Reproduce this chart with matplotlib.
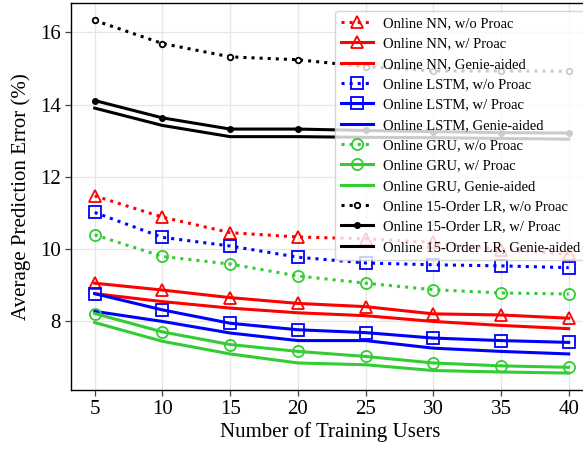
import matplotlib
matplotlib.use("Agg")
import matplotlib.pyplot as plt

plt.rcParams['font.family'] = ['Liberation Serif', 'DejaVu Serif']
plt.rcParams['mathtext.fontset'] = 'stix'

users = [5, 10, 15, 20, 25, 30, 35, 40]

nn_wo = [11.47, 10.88, 10.45, 10.33, 10.28, 10.18, 9.98, 9.86]
nn_w = [9.05, 8.86, 8.65, 8.49, 8.40, 8.20, 8.17, 8.08]
nn_genie = [8.76, 8.54, 8.36, 8.23, 8.15, 7.99, 7.88, 7.79]

lstm_wo = [11.01, 10.32, 10.08, 9.77, 9.61, 9.56, 9.53, 9.48]
lstm_w = [8.76, 8.31, 7.94, 7.76, 7.68, 7.53, 7.46, 7.41]
lstm_genie = [8.27, 7.99, 7.67, 7.46, 7.46, 7.25, 7.16, 7.09]

gru_wo = [10.39, 9.79, 9.58, 9.25, 9.05, 8.87, 8.78, 8.75]
gru_w = [8.21, 7.70, 7.35, 7.16, 7.02, 6.84, 6.76, 6.72]
gru_genie = [7.96, 7.44, 7.09, 6.84, 6.79, 6.63, 6.59, 6.56]

lr_wo = [16.33, 15.69, 15.32, 15.24, 15.05, 14.93, 14.93, 14.92]
lr_w = [14.11, 13.63, 13.32, 13.32, 13.28, 13.25, 13.22, 13.21]
lr_genie = [13.90, 13.42, 13.11, 13.11, 13.09, 13.08, 13.06, 13.04]

red = '#ff0000'
blue = '#0000ff'
green = '#33cc33'
lw = 2.2

fig = plt.figure(figsize=(5.83, 4.53), dpi=100)
ax = fig.add_axes([0.1218, 0.139, 0.8885, 0.855])

ax.plot(users, nn_wo, ':', color=red, lw=lw, marker='^', ms=9, mfc='none', mew=1.3, label='Online NN, w/o Proac')
ax.plot(users, nn_w, '-', color=red, lw=lw, marker='^', ms=9, mfc='none', mew=1.3, label='Online NN, w/ Proac')
ax.plot(users, nn_genie, '-', color=red, lw=lw, label='Online NN, Genie-aided')

ax.plot(users, lstm_wo, ':', color=blue, lw=lw, marker='s', ms=8, mfc='none', mew=1.3, label='Online LSTM, w/o Proac')
ax.plot(users, lstm_w, '-', color=blue, lw=lw, marker='s', ms=8, mfc='none', mew=1.3, label='Online LSTM, w/ Proac')
ax.plot(users, lstm_genie, '-', color=blue, lw=lw, label='Online LSTM, Genie-aided')

ax.plot(users, gru_wo, ':', color=green, lw=lw, marker='o', ms=8, mfc='none', mew=1.3, label='Online GRU, w/o Proac')
ax.plot(users, gru_w, '-', color=green, lw=lw, marker='o', ms=8, mfc='none', mew=1.3, label='Online GRU, w/ Proac')
ax.plot(users, gru_genie, '-', color=green, lw=lw, label='Online GRU, Genie-aided')

ax.plot(users, lr_wo, ':', color='black', lw=lw, marker='o', ms=4, mfc='white', mew=1.3, label='Online 15-Order LR, w/o Proac')
ax.plot(users, lr_w, '-', color='black', lw=lw, marker='o', ms=4, mfc='black', mew=1.0, label='Online 15-Order LR, w/ Proac')
ax.plot(users, lr_genie, '-', color='black', lw=lw, label='Online 15-Order LR, Genie-aided')

ax.set_xlim(3.25, 41.5)
ax.set_ylim(6.09, 16.82)
ax.set_xticks(users)
ax.set_yticks([8, 10, 12, 14, 16])
ax.grid(True, color='#e6e6e6', lw=0.9)
ax.set_axisbelow(True)
ax.tick_params(labelsize=15, length=4, width=0.9, color='#444444')
for s in ax.spines.values():
    s.set_linewidth(1.0)

ax.set_xlabel('Number of Training Users', fontsize=15, labelpad=2)
ax.set_ylabel('Average Prediction Error (%)', fontsize=15, labelpad=6)

leg = ax.legend(loc='upper left', bbox_to_anchor=(335 / 583, 1 - 11 / 453),
                bbox_transform=fig.transFigure, borderaxespad=0,
                fontsize=10.5, handlelength=2.2, handletextpad=0.7,
                borderpad=0.4, labelspacing=0.49,
                framealpha=0.8, edgecolor='#cccccc', fancybox=True)

fig.savefig('out.png', dpi=100)
